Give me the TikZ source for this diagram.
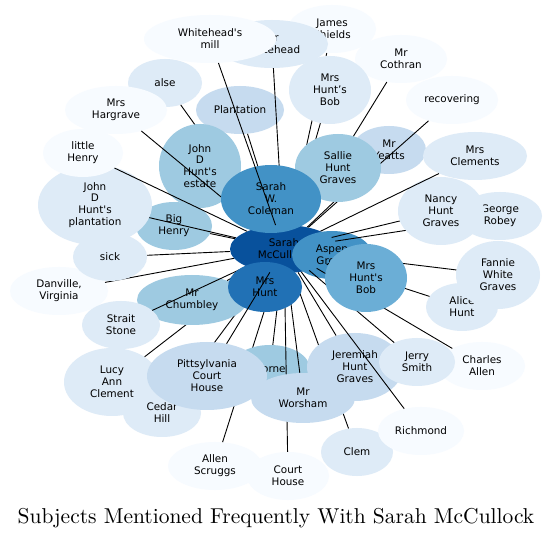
\documentclass[tikz,border=0pt]{standalone}
\usepackage{fontspec}
\newfontfamily\labfont{DejaVu Sans}
\newfontfamily\titlefont{lmroman10-regular.otf}
\usetikzlibrary{shapes.geometric}
\pgfdeclarelayer{background}
\pgfsetlayers{background,main}
\definecolor{bA}{HTML}{F7FBFF}
\definecolor{bB}{HTML}{DEEBF7}
\definecolor{bC}{HTML}{C6DBEF}
\definecolor{bD}{HTML}{9ECAE1}
\definecolor{bE}{HTML}{6BAED6}
\definecolor{bF}{HTML}{4292C6}
\definecolor{bG}{HTML}{2171B5}
\definecolor{bH}{HTML}{08519C}
\tikzset{
  bub/.style 2 args={ellipse, draw=none, inner sep=0pt, align=center,
    minimum width=#1pt, minimum height=#2pt,
    font=\labfont\fontsize{10.4pt}{11.9pt}\selectfont, text=black},
  link/.style={draw=black, line width=0.9pt},
  titletext/.style={font=\titlefont\fontsize{21.5pt}{24pt}\selectfont, anchor=base, inner sep=0pt}
}
\begin{document}
\begin{tikzpicture}[x=1pt,y=-1pt]
\useasboundingbox (0,0) rectangle (552,537);
\fill[white] (0,0) rectangle (552,537);

\node[bub={108}{48},fill=bH] (mccull) at (284,249) {Sarah\\McCullock};

% upper group
\node[bub={88}{48},fill=bA] (jshields) at (332,29) {James\\Shields};
\draw[link] (jshields) -- (mccull);
\node[bub={92}{48},fill=bA] (cothran) at (401,59) {Mr\\Cothran};
\draw[link] (cothran) -- (mccull);
\node[bub={82}{68},fill=bB] (bobtop) at (330,90) {Mrs\\Hunt’s\\Bob};
\draw[link] (bobtop) -- (mccull);
\node[bub={74}{48},fill=bC] (yeatts) at (389,150) {Mr\\Yeatts};
\draw[link] (yeatts) -- (mccull);
\node[bub={92}{48},fill=bA] (recov) at (452,100) {recovering};
\draw[link] (recov) -- (mccull);
\node[bub={86}{68},fill=bD] (sallie) at (338,168) {Sallie\\Hunt\\Graves};
\draw[link] (sallie) -- (mccull);
\node[bub={88}{48},fill=bC] (plant) at (240,110) {Plantation};
\draw[link] (plant) -- (mccull);
\node[bub={112}{48},fill=bB] (mrwhite) at (272,44) {Mr\\Whitehead};
\draw[link] (mrwhite) -- (mccull);
\node[bub={74}{48},fill=bB] (alse) at (165,83) {alse};
\draw[link] (alse) -- (mccull);
\node[bub={82}{84},fill=bD] (estate) at (200,166) {John\\D\\Hunt's\\estate};
\draw[link] (estate) -- (mccull);
\node[bub={102}{48},fill=bA] (hargrave) at (116,110) {Mrs\\Hargrave};
\draw[link] (hargrave) -- (mccull);
\node[bub={100}{68},fill=bF] (coleman) at (271,199) {Sarah\\W.\\Coleman};
\begin{pgfonlayer}{background}\draw[link] (coleman) -- (mccull);\end{pgfonlayer}
\node[bub={132}{48},fill=bA] (wmill) at (210,39) {Whitehead's\\mill};
\draw[link] (wmill) -- (mccull);

% left group
\node[bub={76}{48},fill=bD] (bighenry) at (174,226) {Big\\Henry};
\draw[link] (bighenry) -- (mccull);
\node[bub={114}{80},fill=bB] (jdplant) at (95,205) {John\\D\\Hunt's\\plantation};
\draw[link] (jdplant) -- (mccull);
\node[bub={80}{48},fill=bA] (lhenry) at (83,153) {little\\Henry};
\draw[link] (lhenry) -- (mccull);
\node[bub={98}{48},fill=bA] (danville) at (59,291) {Danville,\\Virginia};
\draw[link] (danville) -- (mccull);
\node[bub={74}{48},fill=bB] (sick) at (110,257) {sick};
\draw[link] (sick) -- (mccull);

% lower group
\node[bub={96}{68},fill=bB] (lucy) at (112,382) {Lucy\\Ann\\Clement};
\draw[link] (lucy) -- (mccull);
\node[bub={78}{48},fill=bB] (cedar) at (162,413) {Cedar\\Hill};
\draw[link] (cedar) -- (mccull);
\node[bub={94}{48},fill=bA] (scruggs) at (215,466) {Allen\\Scruggs};
\draw[link] (scruggs) -- (mccull);
\node[bub={80}{48},fill=bD] (horne) at (270,369) {Horne};
\draw[link] (horne) -- (mccull);
\node[bub={72}{48},fill=bB] (clem) at (357,452) {Clem};
\draw[link] (clem) -- (mccull);
\node[bub={82}{48},fill=bA] (courth) at (288,476) {Court\\House};
\draw[link] (courth) -- (mccull);
\node[bub={104}{50},fill=bC] (worsham) at (303,398) {Mr\\Worsham};
\draw[link] (worsham) -- (mccull);
\node[bub={110}{50},fill=bD] (chumbley) at (192,300) {Mr\\Chumbley};
\draw[link] (chumbley) -- (mccull);
\node[bub={78}{48},fill=bB] (strait) at (121,325) {Strait\\Stone};
\draw[link] (strait) -- (mccull);
\node[bub={74}{50},fill=bG] (mrshunt) at (265,287) {Mrs\\Hunt};
\begin{pgfonlayer}{background}\draw[link] (mrshunt) -- (mccull);\end{pgfonlayer}
\node[bub={120}{68},fill=bC] (pitt) at (207,376) {Pittsylvania\\Court\\House};
\draw[link] (pitt) -- (mccull);

% right group
\node[bub={80}{48},fill=bF] (aspen) at (332,255) {Aspen\\Grove};
\begin{pgfonlayer}{background}\draw[link] (aspen) -- (mccull);\end{pgfonlayer}
\node[bub={96}{68},fill=bC] (jeremiah) at (355,367) {Jeremiah\\Hunt\\Graves};
\draw[link] (jeremiah) -- (mccull);
\node[bub={86}{48},fill=bA] (richmond) at (421,431) {Richmond};
\draw[link] (richmond) -- (mccull);
\node[bub={86}{48},fill=bA] (callen) at (482,366) {Charles\\Allen};
\draw[link] (callen) -- (mccull);
\node[bub={76}{48},fill=bB] (jerry) at (417,362) {Jerry\\Smith};
\draw[link] (jerry) -- (mccull);
\node[bub={72}{48},fill=bB] (alice) at (462,307) {Alice\\Hunt};
\draw[link] (alice) -- (mccull);
\node[bub={84}{68},fill=bB] (fannie) at (498,275) {Fannie\\White\\Graves};
\draw[link] (fannie) -- (mccull);
\node[bub={84}{48},fill=bB] (robey) at (500,216) {George\\Robey};
\draw[link] (robey) -- (mccull);
\node[bub={86}{68},fill=bB] (nancy) at (441,211) {Nancy\\Hunt\\Graves};
\draw[link] (nancy) -- (mccull);
\node[bub={82}{68},fill=bE] (bobright) at (366,278) {Mrs\\Hunt's\\Bob};
\draw[link] (bobright) -- (mccull);
\node[bub={104}{48},fill=bB] (clements) at (475,156) {Mrs\\Clements};
\draw[link] (clements) -- (mccull);

\node[titletext] (title) at (276,523) {Subjects Mentioned Frequently With Sarah McCullock};
\end{tikzpicture}
\end{document}
